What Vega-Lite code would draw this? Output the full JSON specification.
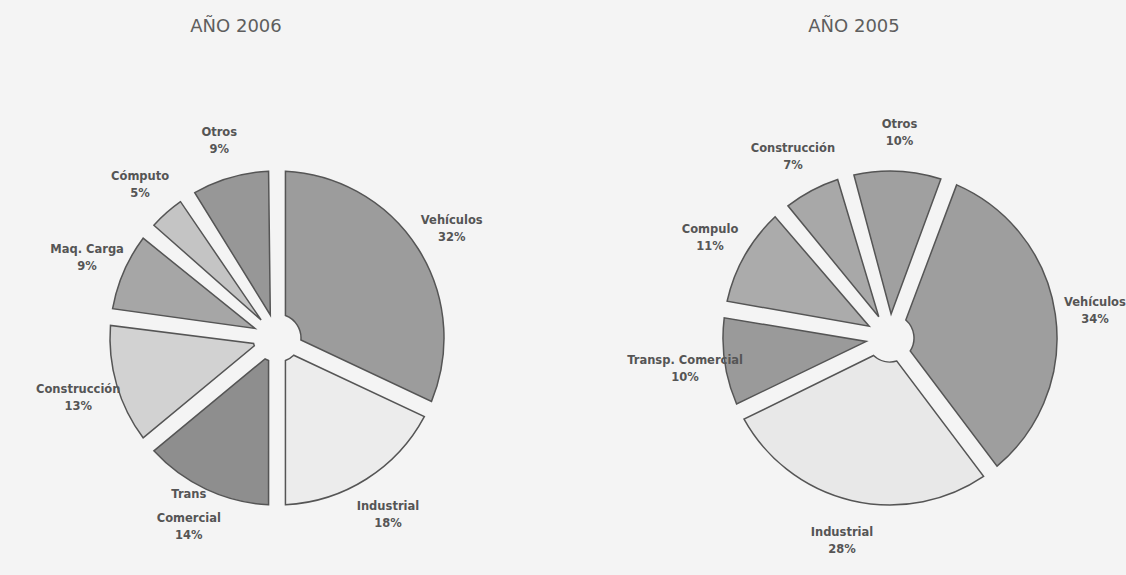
{
  "$schema": "https://vega.github.io/schema/vega-lite/v6.json",
  "background": "#f4f4f4",
  "padding": {"left": 0, "top": 18, "right": 0, "bottom": 0},
  "config": {
    "view": {"stroke": null},
    "title": {"font": "DejaVu Sans", "fontSize": 18, "fontWeight": "normal", "color": "#5e5e5e", "offset": 64}
  },
  "datasets": {
    "mercado": [
      {"anio": 2006, "cat": "Vehículos", "sup": "", "nombre": "Vehículos", "pct": 0.32, "orden": 1},
      {"anio": 2006, "cat": "Industrial", "sup": "", "nombre": "Industrial", "pct": 0.18, "orden": 2},
      {"anio": 2006, "cat": "Trans Comercial", "sup": "Trans", "nombre": "Comercial", "pct": 0.14, "orden": 3},
      {"anio": 2006, "cat": "Construcción", "sup": "", "nombre": "Construcción", "pct": 0.13, "orden": 4},
      {"anio": 2006, "cat": "Maq. Carga", "sup": "", "nombre": "Maq. Carga", "pct": 0.09, "orden": 5},
      {"anio": 2006, "cat": "Cómputo", "sup": "", "nombre": "Cómputo", "pct": 0.05, "orden": 6},
      {"anio": 2006, "cat": "Otros", "sup": "", "nombre": "Otros", "pct": 0.09, "orden": 7},
      {"anio": 2005, "cat": "Vehículos", "sup": "", "nombre": "Vehículos", "pct": 0.34, "orden": 1},
      {"anio": 2005, "cat": "Industrial", "sup": "", "nombre": "Industrial", "pct": 0.28, "orden": 2},
      {"anio": 2005, "cat": "Transp. Comercial", "sup": "", "nombre": "Transp. Comercial", "pct": 0.10, "orden": 3},
      {"anio": 2005, "cat": "Compulo", "sup": "", "nombre": "Compulo", "pct": 0.11, "orden": 4},
      {"anio": 2005, "cat": "Construcción", "sup": "", "nombre": "Construcción", "pct": 0.07, "orden": 5},
      {"anio": 2005, "cat": "Otros", "sup": "", "nombre": "Otros", "pct": 0.10, "orden": 6}
    ]
  },
  "spacing": 73,
  "resolve": {"scale": {"color": "independent", "theta": "independent"}},
  "hconcat": [
    {
      "width": 554,
      "height": 476,
      "title": {"text": "AÑO 2006", "dx": -41},
      "data": {"name": "mercado"},
      "transform": [{"filter": "datum.anio == 2006"}],
      "encoding": {
        "theta": {"field": "pct", "type": "quantitative", "stack": true, "scale": {"range": [0, 6.2832]}},
        "order": {"field": "orden", "type": "quantitative", "sort": "ascending"}
      },
      "layer": [
        {
          "mark": {"type": "arc", "outerRadius": 167, "innerRadius": 24, "padAngle": 0.1, "stroke": "#555555", "strokeWidth": 1.5},
          "encoding": {
            "color": {
              "field": "cat", "type": "nominal", "legend": null,
              "scale": {
                "domain": ["Vehículos", "Industrial", "Trans Comercial", "Construcción", "Maq. Carga", "Cómputo", "Otros"],
                "range": ["#9c9c9c", "#ececec", "#8e8e8e", "#d2d2d2", "#a6a6a6", "#c4c4c4", "#979797"]
              }
            }
          }
        },
        {
          "mark": {"type": "text", "radius": 207, "baseline": "bottom", "dy": -25, "font": "DejaVu Sans", "fontSize": 11.5, "fontWeight": "bold", "fill": "#555555"},
          "encoding": {"text": {"field": "sup", "type": "nominal"}}
        },
        {
          "mark": {"type": "text", "radius": 207, "baseline": "bottom", "dy": -1, "font": "DejaVu Sans", "fontSize": 11.5, "fontWeight": "bold", "fill": "#555555"},
          "encoding": {"text": {"field": "nombre", "type": "nominal"}}
        },
        {
          "mark": {"type": "text", "radius": 207, "baseline": "top", "dy": 5, "font": "DejaVu Sans", "fontSize": 11.5, "fontWeight": "bold", "fill": "#555555"},
          "encoding": {"text": {"field": "pct", "type": "quantitative", "format": ".0%"}}
        }
      ]
    },
    {
      "width": 476,
      "height": 476,
      "title": {"text": "AÑO 2005", "dx": -36},
      "data": {"name": "mercado"},
      "transform": [{"filter": "datum.anio == 2005"}],
      "encoding": {
        "theta": {"field": "pct", "type": "quantitative", "stack": true, "scale": {"range": [0.36, 6.6432]}},
        "order": {"field": "orden", "type": "quantitative", "sort": "ascending"}
      },
      "layer": [
        {
          "mark": {"type": "arc", "outerRadius": 167, "innerRadius": 24, "padAngle": 0.1, "stroke": "#555555", "strokeWidth": 1.5},
          "encoding": {
            "color": {
              "field": "cat", "type": "nominal", "legend": null,
              "scale": {
                "domain": ["Vehículos", "Industrial", "Transp. Comercial", "Compulo", "Construcción", "Otros"],
                "range": ["#9e9e9e", "#e8e8e8", "#9a9a9a", "#ababab", "#a8a8a8", "#a0a0a0"]
              }
            }
          }
        },
        {
          "mark": {"type": "text", "radius": 207, "baseline": "bottom", "dy": -1, "font": "DejaVu Sans", "fontSize": 11.5, "fontWeight": "bold", "fill": "#555555"},
          "encoding": {"text": {"field": "nombre", "type": "nominal"}}
        },
        {
          "mark": {"type": "text", "radius": 207, "baseline": "top", "dy": 5, "font": "DejaVu Sans", "fontSize": 11.5, "fontWeight": "bold", "fill": "#555555"},
          "encoding": {"text": {"field": "pct", "type": "quantitative", "format": ".0%"}}
        }
      ]
    }
  ]
}
